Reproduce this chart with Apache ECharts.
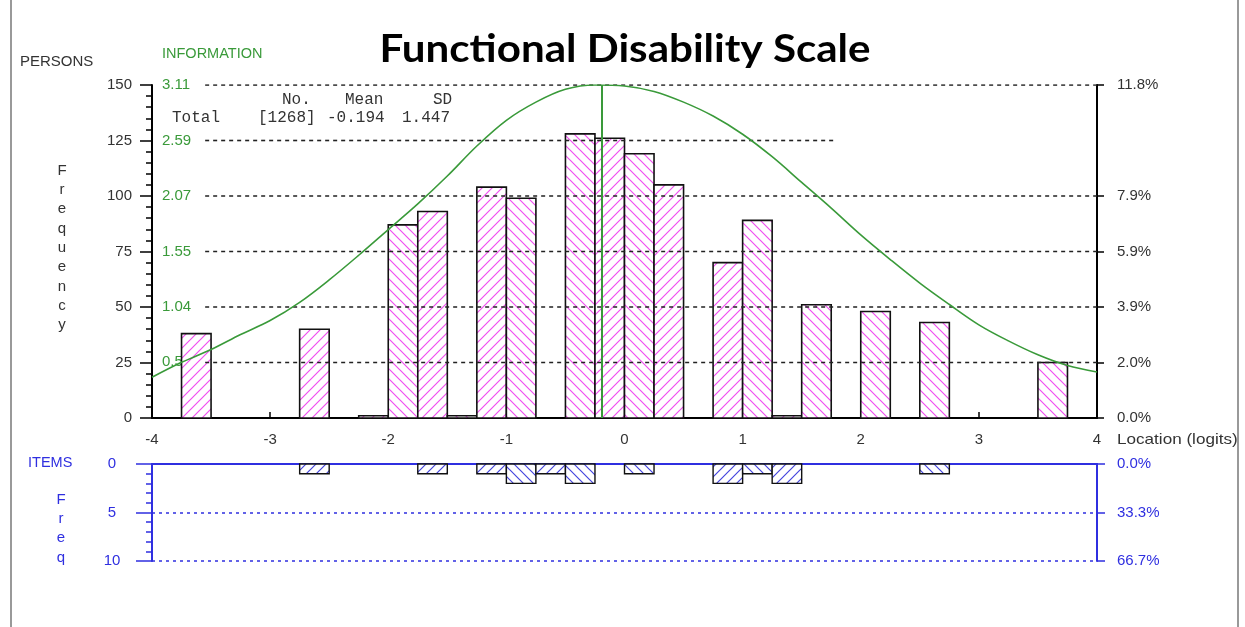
<!DOCTYPE html>
<html>
<head>
<meta charset="utf-8">
<script src="https://cdn.jsdelivr.net/npm/echarts@6/dist/echarts.min.js"></script>
<style>
  html, body { margin: 0; padding: 0; background: #fff; }
  #chart { width: 1245px; height: 627px; }
</style>
</head>
<body>
<div id="chart"></div>
<script>
// ---------------- data ----------------
const personLoc   = [-3.625, -2.625, -2.125, -1.875, -1.625, -1.375, -1.125, -0.875, -0.375, -0.125, 0.125, 0.375, 0.875, 1.125, 1.375, 1.625, 2.125, 2.625, 3.625];
const personCount = [38, 40, 1, 87, 93, 1, 104, 99, 128, 126, 119, 105, 70, 89, 1, 51, 48, 43, 25];

const itemLoc   = [-2.625, -1.625, -1.125, -0.875, -0.625, -0.375, 0.125, 0.875, 1.125, 1.375, 2.625];
const itemCount = [1, 1, 1, 2, 1, 2, 1, 2, 1, 2, 1];

const infoLoc = [-4, -3.75, -3.5, -3.25, -3, -2.75, -2.5, -2.25, -2, -1.75, -1.5, -1.25, -1, -0.75, -0.5, -0.25, 0, 0.25, 0.5, 0.75, 1, 1.25, 1.5, 1.75, 2, 2.25, 2.5, 2.75, 3, 3.25, 3.5, 3.75, 4];
const infoVal = [0.38, 0.52, 0.64, 0.78, 0.91, 1.08, 1.29, 1.52, 1.76, 2.00, 2.26, 2.54, 2.78, 2.95, 3.07, 3.11, 3.10, 3.05, 2.95, 2.82, 2.65, 2.44, 2.20, 1.96, 1.71, 1.48, 1.26, 1.06, 0.87, 0.72, 0.59, 0.49, 0.43];

const infoTickLabels = ['0.52', '1.04', '1.55', '2.07', '2.59', '3.11'];
const freqGridValues = [25, 50, 75, 100, 125, 150];
const pctTickValues  = [0, 25, 50, 75, 100, 150];

const nPersons = 1268;
const personMean = -0.194;
const personSD = 1.447;
const binWidth = 0.25;

// ---------------- helpers ----------------
const nItems = itemCount.reduce((a, b) => a + b, 0);
const BLUE = '#2f2fe0';
const GREEN = '#3a9a3a';
const INK = '#333';

function makeHatch(color, dir) {
  const s = 10;
  const c = document.createElement('canvas');
  c.width = s; c.height = s;
  const g = c.getContext('2d');
  g.fillStyle = '#fff';
  g.fillRect(0, 0, s, s);
  g.strokeStyle = color;
  g.lineWidth = 1.2;
  g.beginPath();
  if (dir === '/') {
    g.moveTo(-1, s + 1); g.lineTo(s + 1, -1);
    g.moveTo(-1, 1); g.lineTo(1, -1);
    g.moveTo(s - 1, s + 1); g.lineTo(s + 1, s - 1);
  } else {
    g.moveTo(-1, -1); g.lineTo(s + 1, s + 1);
    g.moveTo(s - 1, -1); g.lineTo(s + 1, 1);
    g.moveTo(-1, s - 1); g.lineTo(1, s + 1);
  }
  g.stroke();
  return { image: c, repeat: 'repeat' };
}
const pinkFwd = makeHatch('#f050f0', '/');
const pinkBack = makeHatch('#f050f0', '\\');
const blueFwd = makeHatch('#4545dd', '/');
const blueBack = makeHatch('#4545dd', '\\');

function barRenderer(fwd, back, strokeW) {
  return function (params, api) {
    const x = api.value(0), v = api.value(1);
    const a = api.coord([x - binWidth / 2, 0]);
    const b = api.coord([x + binWidth / 2, v]);
    const k = Math.round((x + 4) / binWidth - 0.5);
    return {
      type: 'rect',
      shape: { x: a[0], y: Math.min(a[1], b[1]), width: b[0] - a[0], height: Math.abs(b[1] - a[1]) },
      style: { fill: (k % 2 === 1) ? fwd : back, stroke: '#111', lineWidth: strokeW }
    };
  };
}

const gridStart = -3.55;
const gridLineSeries = freqGridValues.map(v => ({
  type: 'line', xAxisIndex: 0, yAxisIndex: 0, silent: true, symbol: 'none', z: 3,
  data: [[gridStart, v], [v === 125 ? 1.78 : 4, v]],
  lineStyle: { color: '#222', width: 1.6, type: [4, 4] }
}));

const labelFont = { fontFamily: 'Liberation Sans, Arial, sans-serif', fontSize: 15 };
const sans = '"Liberation Sans", Arial, sans-serif';
const mono = '16px "Liberation Mono", monospace';

const chart = echarts.init(document.getElementById('chart'), null, { renderer: 'canvas' });

chart.setOption({
  animation: false,
  backgroundColor: '#fff',
  grid: [
    { left: 152, right: 148, top: 85, bottom: 209 },
    { left: 152, right: 148, top: 464, bottom: 66 }
  ],
  xAxis: [
    {
      type: 'value', gridIndex: 0, min: -4, max: 4, interval: 1, position: 'bottom',
      axisLine: { onZero: false, lineStyle: { color: '#000', width: 2 } },
      axisTick: { inside: true, length: 6, lineStyle: { color: '#000', width: 1.5 } },
      axisLabel: Object.assign({ color: INK, margin: 14 }, labelFont),
      splitLine: { show: false }
    },
    {
      type: 'value', gridIndex: 1, min: -4, max: 4, interval: 1, position: 'top',
      axisLine: { onZero: false, lineStyle: { color: BLUE, width: 2 } },
      axisTick: { show: false }, axisLabel: { show: false }, splitLine: { show: false }
    }
  ],
  yAxis: [
    {
      type: 'value', gridIndex: 0, min: 0, max: 150, interval: 25, position: 'left',
      axisLine: { show: true, onZero: false, lineStyle: { color: '#000', width: 2 } },
      axisTick: { show: true, length: 12, lineStyle: { color: '#000', width: 1.5 } },
      minorTick: { show: true, splitNumber: 5, length: 6, lineStyle: { color: '#000', width: 1.5 } },
      axisLabel: Object.assign({ color: INK, margin: 20 }, labelFont),
      splitLine: { show: false }
    },
    {
      type: 'value', gridIndex: 0, min: 0, max: 3.11, position: 'left',
      axisLine: { show: false, onZero: false }, axisTick: { show: false }, splitLine: { show: false },
      axisLabel: Object.assign({
        inside: true, margin: 10, color: GREEN,
        customValues: infoTickLabels.map(Number),
        formatter: v => v.toFixed(2)
      }, labelFont)
    },
    {
      type: 'value', gridIndex: 0, min: 0, max: 150, position: 'right',
      axisLine: { show: true, onZero: false, lineStyle: { color: '#000', width: 2 } },
      axisTick: { show: true, length: 7, customValues: pctTickValues, lineStyle: { color: '#000', width: 1.5 } },
      axisLabel: Object.assign({
        color: INK, margin: 20, customValues: pctTickValues,
        formatter: v => (v / nPersons * 100).toFixed(1) + '%'
      }, labelFont),
      splitLine: { show: false }
    },
    {
      type: 'value', gridIndex: 1, min: 0, max: 10, interval: 5, inverse: true, position: 'left',
      axisLine: { show: true, onZero: false, lineStyle: { color: BLUE, width: 2 } },
      axisTick: { show: true, length: 16, lineStyle: { color: BLUE, width: 1.5 } },
      minorTick: { show: true, splitNumber: 5, length: 6, lineStyle: { color: BLUE, width: 1.5 } },
      axisLabel: Object.assign({ color: BLUE, margin: 40, align: 'center' }, labelFont),
      splitLine: { show: true, lineStyle: { color: BLUE, width: 1.5, type: [3, 4] } }
    },
    {
      type: 'value', gridIndex: 1, min: 0, max: 10, interval: 5, inverse: true, position: 'right',
      axisLine: { show: true, onZero: false, lineStyle: { color: BLUE, width: 2 } },
      axisTick: { show: true, length: 8, lineStyle: { color: BLUE, width: 1.5 } },
      axisLabel: Object.assign({
        color: BLUE, margin: 20,
        formatter: v => (v / nItems * 100).toFixed(1) + '%'
      }, labelFont),
      splitLine: { show: false }
    }
  ],
  series: [
    {
      type: 'custom', name: 'persons', xAxisIndex: 0, yAxisIndex: 0, z: 2, silent: true,
      renderItem: barRenderer(pinkFwd, pinkBack, 1.6),
      data: personLoc.map((x, i) => [x, personCount[i]])
    },
    {
      type: 'custom', name: 'items', xAxisIndex: 1, yAxisIndex: 3, z: 2, silent: true,
      renderItem: barRenderer(blueFwd, blueBack, 1.4),
      data: itemLoc.map((x, i) => [x, itemCount[i]])
    },
    ...gridLineSeries,
    {
      type: 'line', name: 'information', xAxisIndex: 0, yAxisIndex: 1, z: 4, silent: true,
      smooth: 0.35, symbol: 'none',
      lineStyle: { color: GREEN, width: 1.6 },
      data: infoLoc.map((x, i) => [x, infoVal[i]]),
      markLine: {
        silent: true, symbol: 'none', label: { show: false },
        lineStyle: { color: GREEN, width: 2, type: 'solid' },
        data: [{ xAxis: personMean }]
      }
    }
  ],
  graphic: [
    { type: 'line', shape: { x1: 11, y1: 0, x2: 11, y2: 627 }, style: { stroke: '#999', lineWidth: 2 } },
    { type: 'line', shape: { x1: 1238, y1: 0, x2: 1238, y2: 627 }, style: { stroke: '#999', lineWidth: 2 } },
    { type: 'text', x: 625, y: 30, scaleX: 1.08, style: { text: 'Functional Disability Scale', fill: '#000', align: 'center', font: 'bold 39px Lato, sans-serif' } },
    { type: 'text', left: 20, top: 54, style: { text: 'PERSONS', fill: INK, font: '15px ' + sans } },
    { type: 'text', left: 162, top: 46, style: { text: 'INFORMATION', fill: GREEN, font: '14.5px ' + sans } },
    { type: 'text', x: 62, y: 161, style: { text: 'F\nr\ne\nq\nu\ne\nn\nc\ny', fill: INK, align: 'center', lineHeight: 19.3, font: '15px ' + sans } },
    { type: 'text', left: 28, top: 455, style: { text: 'ITEMS', fill: BLUE, font: '14.5px ' + sans } },
    { type: 'text', x: 61, y: 490, style: { text: 'F\nr\ne\nq', fill: BLUE, align: 'center', lineHeight: 19.3, font: '15px ' + sans } },
    { type: 'text', x: 1117, y: 432, scaleX: 1.14, style: { text: 'Location (logits)', fill: INK, font: '15px ' + sans } },
    { type: 'text', left: 282, top: 92, style: { text: 'No.', fill: INK, font: mono } },
    { type: 'text', left: 345, top: 92, style: { text: 'Mean', fill: INK, font: mono } },
    { type: 'text', left: 433, top: 92, style: { text: 'SD', fill: INK, font: mono } },
    { type: 'text', left: 172, top: 110, style: { text: 'Total', fill: INK, font: mono } },
    { type: 'text', left: 258, top: 110, style: { text: '[' + nPersons + ']', fill: INK, font: mono } },
    { type: 'text', left: 327, top: 110, style: { text: personMean.toFixed(3), fill: INK, font: mono } },
    { type: 'text', left: 402, top: 110, style: { text: personSD.toFixed(3), fill: INK, font: mono } }
  ]
});
</script>
</body>
</html>
